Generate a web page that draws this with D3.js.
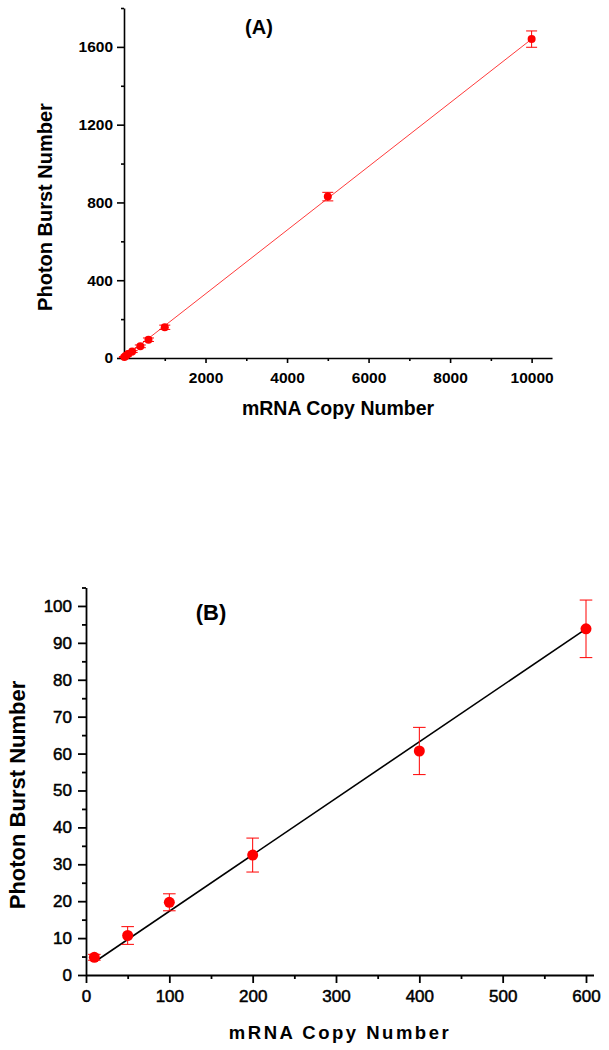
<!DOCTYPE html>
<html>
<head>
<meta charset="utf-8">
<script src="https://cdn.jsdelivr.net/npm/d3@7"></script>
<style>
  body { margin: 0; background: #fff; }
  svg { display: block; }
</style>
</head>
<body>
<script>
// Panel A: full range
const copiesA = [10, 50, 100, 200, 400, 600, 1000, 5000, 10000];
const burstsA = [5, 11, 20, 33, 60, 94, 158, 830, 1640];
const errA = [2, 3, 4, 5, 7, 9, 11, 22, 42];
const fitA = [[10, 4], [10000, 1640]];
const xTicksA = [2000, 4000, 6000, 8000, 10000];
const xMinorA = [1000, 3000, 5000, 7000, 9000];
const yTicksA = [0, 400, 800, 1200, 1600];
const yMinorA = [200, 600, 1000, 1400, 1800];

// Panel B: low copy numbers
const copiesB = [10, 50, 100, 200, 400, 600];
const burstsB = [4.8, 10.7, 19.7, 32.5, 60.7, 93.8];
const errB = [0.8, 2.4, 2.3, 4.6, 6.4, 7.8];
const fitB = [[12, 3.8], [600, 93.8]];
const xTicksB = [0, 100, 200, 300, 400, 500, 600];
const xMinorB = [50, 150, 250, 350, 450, 550];
const yTicksB = [0, 10, 20, 30, 40, 50, 60, 70, 80, 90, 100];
const yMinorB = [5, 15, 25, 35, 45, 55, 65, 75, 85, 95, 105];

let width = 609;
let height = 1050;
let svg = d3.select("body").append("svg")
  .attr("width", width)
  .attr("height", height);

let font = "'Liberation Sans', Arial, sans-serif";
let fmt = d3.format("d");

function drawPanel(p) {
  let x = d3.scaleLinear().domain(p.xDomain).range([p.left, p.right]);
  let y = d3.scaleLinear().domain(p.yDomain).range([p.bottom, p.top]);

  // minor ticks
  svg.append("g")
    .attr("transform", `translate(0,${p.bottom})`)
    .call(d3.axisBottom(x).tickValues(p.xMinor).tickFormat("").tickSizeInner(p.minorLen).tickSizeOuter(0))
    .call(g => g.select(".domain").remove())
    .selectAll("line").attr("stroke-width", p.axisW);
  svg.append("g")
    .attr("transform", `translate(${p.left},0)`)
    .call(d3.axisLeft(y).tickValues(p.yMinor).tickFormat("").tickSizeInner(p.minorLen).tickSizeOuter(0))
    .call(g => g.select(".domain").remove())
    .selectAll("line").attr("stroke-width", p.axisW);

  // major axes
  let xAxis = svg.append("g")
    .attr("transform", `translate(0,${p.bottom})`)
    .call(d3.axisBottom(x).tickValues(p.xTicks).tickFormat(fmt).tickSizeInner(p.xMajorLen).tickSizeOuter(0).tickPadding(p.xPad));
  let yAxis = svg.append("g")
    .attr("transform", `translate(${p.left},0)`)
    .call(d3.axisLeft(y).tickValues(p.yTicks).tickFormat(fmt).tickSizeInner(p.yMajorLen).tickSizeOuter(0).tickPadding(p.yPad));
  [xAxis, yAxis].forEach(a => {
    a.selectAll("path, line").attr("stroke-width", p.axisW).attr("stroke", "#000");
    a.selectAll("text")
      .attr("font-family", font)
      .attr("font-size", p.tickSize)
      .attr("font-weight", p.tickWeight)
      .attr("stroke", p.tickStroke > 0 ? "#000" : "none")
      .attr("stroke-width", p.tickStroke)
      .attr("fill", "#000");
  });

  // fit line
  svg.append("path")
    .datum(p.fit)
    .attr("d", d3.line().x(d => x(d[0])).y(d => y(d[1])))
    .attr("stroke", p.fitColor)
    .attr("stroke-width", p.fitW)
    .attr("fill", "none");

  let pts = p.xs.map((v, i) => ({ x: v, y: p.ys[i], e: p.errs[i] }));

  // error bars
  let eb = svg.append("g").attr("stroke", "#ff0000").attr("stroke-width", 1);
  eb.selectAll(".v").data(pts).enter().append("line")
    .attr("x1", d => x(d.x)).attr("x2", d => x(d.x))
    .attr("y1", d => y(d.y - d.e)).attr("y2", d => y(d.y + d.e));
  eb.selectAll(".t").data(pts).enter().append("line")
    .attr("x1", d => x(d.x) - p.cap).attr("x2", d => x(d.x) + p.cap)
    .attr("y1", d => y(d.y + d.e)).attr("y2", d => y(d.y + d.e));
  eb.selectAll(".b").data(pts).enter().append("line")
    .attr("x1", d => x(d.x) - p.cap).attr("x2", d => x(d.x) + p.cap)
    .attr("y1", d => y(d.y - d.e)).attr("y2", d => y(d.y - d.e));

  svg.append("g").selectAll("circle")
    .data(pts)
    .enter()
    .append("circle")
    .attr("cx", d => x(d.x))
    .attr("cy", d => y(d.y))
    .attr("r", p.r)
    .attr("fill", "#ff0000");

  // labels
  svg.append("text")
    .attr("x", p.xLabel[0]).attr("y", p.xLabel[1])
    .attr("text-anchor", "middle")
    .attr("font-family", font).attr("font-weight", "bold")
    .attr("font-size", p.xLabelSize)
    .attr("letter-spacing", p.xLabelSpacing)
    .text("mRNA Copy Number");
  svg.append("text")
    .attr("transform", `translate(${p.yLabel[0]},${p.yLabel[1]}) rotate(-90)`)
    .attr("text-anchor", "middle")
    .attr("font-family", font).attr("font-weight", "bold")
    .attr("font-size", p.yLabelSize)
    .text("Photon Burst Number");
  svg.append("text")
    .attr("x", p.tag[0]).attr("y", p.tag[1])
    .attr("text-anchor", "middle")
    .attr("font-family", font).attr("font-weight", "bold")
    .attr("font-size", p.tagSize)
    .text(p.tagText);
}

drawPanel({
  xDomain: [0, 10500], yDomain: [0, 1800],
  left: 124, right: 552, top: 8, bottom: 358,
  xTicks: xTicksA, xMinor: xMinorA, yTicks: yTicksA, yMinor: yMinorA,
  xMajorLen: 5, yMajorLen: 7, minorLen: 3, xPad: 9, yPad: 4,
  axisW: 1.6, tickSize: 15.5, tickWeight: "bold", tickStroke: 0,
  xs: copiesA, ys: burstsA, errs: errA, fit: fitA,
  fitColor: "#ff3b3b", fitW: 1, r: 4, cap: 5.5,
  xLabel: [338, 415], xLabelSize: 19.5, xLabelSpacing: 0,
  yLabel: [52, 207], yLabelSize: 20,
  tag: [259, 34], tagSize: 20, tagText: "(A)"
});

drawPanel({
  xDomain: [0, 609], yDomain: [0, 105],
  left: 86, right: 593.5, top: 587.5, bottom: 975,
  xTicks: xTicksB, xMinor: xMinorB, yTicks: yTicksB, yMinor: yMinorB,
  xMajorLen: 8, yMajorLen: 8, minorLen: 4, xPad: 7, yPad: 6,
  axisW: 1.8, tickSize: 17, tickWeight: "normal", tickStroke: 0.5,
  xs: copiesB, ys: burstsB, errs: errB, fit: fitB,
  fitColor: "#000", fitW: 1.6, r: 5.5, cap: 6.3,
  xLabel: [340, 1039], xLabelSize: 18.5, xLabelSpacing: 2.5,
  yLabel: [25, 795], yLabelSize: 22,
  tag: [211, 620], tagSize: 22, tagText: "(B)"
});
</script>
</body>
</html>
